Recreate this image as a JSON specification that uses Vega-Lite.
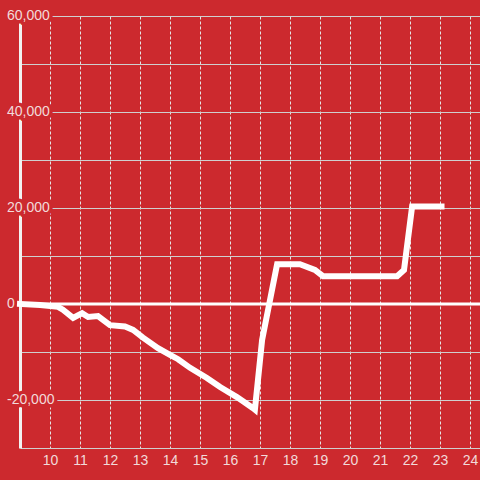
{
  "$schema": "https://vega.github.io/schema/vega-lite/v6.json",
  "width": 460,
  "height": 432,
  "autosize": {"type": "none"},
  "padding": {"left": 20, "top": 16, "right": 0, "bottom": 32},
  "background": "#cc292e",
  "config": {
    "view": {"stroke": null},
    "font": "Liberation Sans",
    "axis": {"labelFont": "Liberation Sans"},
    "axisX": {
      "title": null,
      "domain": false, "ticks": false, "tickSize": 0, "labelOverlap": false,
      "labelPadding": 5, "labelFontSize": 14, "labelColor": "#f2dada",
      "grid": true, "gridColor": "#e4e4e4", "gridDash": [3, 2], "gridWidth": 1
    },
    "axisY": {
      "title": null,
      "labels": false, "ticks": false, "tickSize": 0,
      "domain": true, "domainColor": "#f2f2f2", "domainWidth": 3,
      "grid": true, "gridColor": "#cfcfcf", "gridWidth": 1
    }
  },
  "datasets": {
    "series": [
      {"t": 9.0, "v": 0},
      {"t": 9.67, "v": -200},
      {"t": 10.27, "v": -600},
      {"t": 10.43, "v": -1200},
      {"t": 10.77, "v": -2900},
      {"t": 11.07, "v": -1900},
      {"t": 11.27, "v": -2700},
      {"t": 11.6, "v": -2500},
      {"t": 12.0, "v": -4400},
      {"t": 12.5, "v": -4700},
      {"t": 12.77, "v": -5400},
      {"t": 13.1, "v": -7000},
      {"t": 13.6, "v": -9200},
      {"t": 14.0, "v": -10600},
      {"t": 14.27, "v": -11500},
      {"t": 14.67, "v": -13300},
      {"t": 15.23, "v": -15400},
      {"t": 15.67, "v": -17300},
      {"t": 16.23, "v": -19400},
      {"t": 16.77, "v": -21700},
      {"t": 16.83, "v": -22000},
      {"t": 17.07, "v": -7500},
      {"t": 17.57, "v": 8300},
      {"t": 18.33, "v": 8300},
      {"t": 18.83, "v": 7100},
      {"t": 19.1, "v": 5800},
      {"t": 21.57, "v": 5800},
      {"t": 21.8, "v": 7100},
      {"t": 22.07, "v": 20300},
      {"t": 23.05, "v": 20300}
    ],
    "ticks": [
      {"v": -20000, "lab": "-20,000"},
      {"v": 0, "lab": "0"},
      {"v": 20000, "lab": "20,000"},
      {"v": 40000, "lab": "40,000"},
      {"v": 60000, "lab": "60,000"}
    ],
    "zero": [{"v": 0}]
  },
  "layer": [
    {
      "data": {"name": "series"},
      "mark": {"type": "line", "opacity": 0},
      "encoding": {
        "x": {"field": "t", "type": "quantitative", "scale": {"domain": [9, 24.333], "nice": false, "zero": false},
          "axis": {"values": [10, 11, 12, 13, 14, 15, 16, 17, 18, 19, 20, 21, 22, 23, 24]}},
        "y": {"field": "v", "type": "quantitative", "scale": {"domain": [-30000, 60000], "nice": false, "zero": false},
          "axis": {"values": [-30000, -20000, -10000, 0, 10000, 20000, 30000, 40000, 50000, 60000]}}
      }
    },
    {
      "data": {"name": "ticks"},
      "mark": {"type": "text", "align": "left", "baseline": "middle", "dx": -13, "fontSize": 14, "stroke": "#cc292e", "strokeWidth": 7, "fill": "#cc292e", "strokeJoin": "round"},
      "encoding": {
        "x": {"datum": 9, "type": "quantitative", "axis": {"values": [10, 11, 12, 13, 14, 15, 16, 17, 18, 19, 20, 21, 22, 23, 24]}},
        "y": {"field": "v", "type": "quantitative", "axis": {"values": [-30000, -20000, -10000, 0, 10000, 20000, 30000, 40000, 50000, 60000]}},
        "text": {"field": "lab"}
      }
    },
    {
      "data": {"name": "zero"},
      "mark": {"type": "rule", "color": "#ffffff", "strokeWidth": 3},
      "encoding": {
        "y": {"field": "v", "type": "quantitative", "axis": {"values": [-30000, -20000, -10000, 0, 10000, 20000, 30000, 40000, 50000, 60000]}}
      }
    },
    {
      "data": {"name": "series"},
      "mark": {"type": "line", "color": "#ffffff", "strokeWidth": 6, "strokeCap": "square", "strokeJoin": "miter"},
      "encoding": {
        "x": {"field": "t", "type": "quantitative", "axis": {"values": [10, 11, 12, 13, 14, 15, 16, 17, 18, 19, 20, 21, 22, 23, 24]}},
        "y": {"field": "v", "type": "quantitative", "axis": {"values": [-30000, -20000, -10000, 0, 10000, 20000, 30000, 40000, 50000, 60000]}}
      }
    },
    {
      "data": {"name": "ticks"},
      "mark": {"type": "text", "align": "left", "baseline": "middle", "dx": -13, "fontSize": 14, "color": "#f2dada"},
      "encoding": {
        "x": {"datum": 9, "type": "quantitative", "axis": {"values": [10, 11, 12, 13, 14, 15, 16, 17, 18, 19, 20, 21, 22, 23, 24]}},
        "y": {"field": "v", "type": "quantitative", "axis": {"values": [-30000, -20000, -10000, 0, 10000, 20000, 30000, 40000, 50000, 60000]}},
        "text": {"field": "lab"}
      }
    }
  ]
}
